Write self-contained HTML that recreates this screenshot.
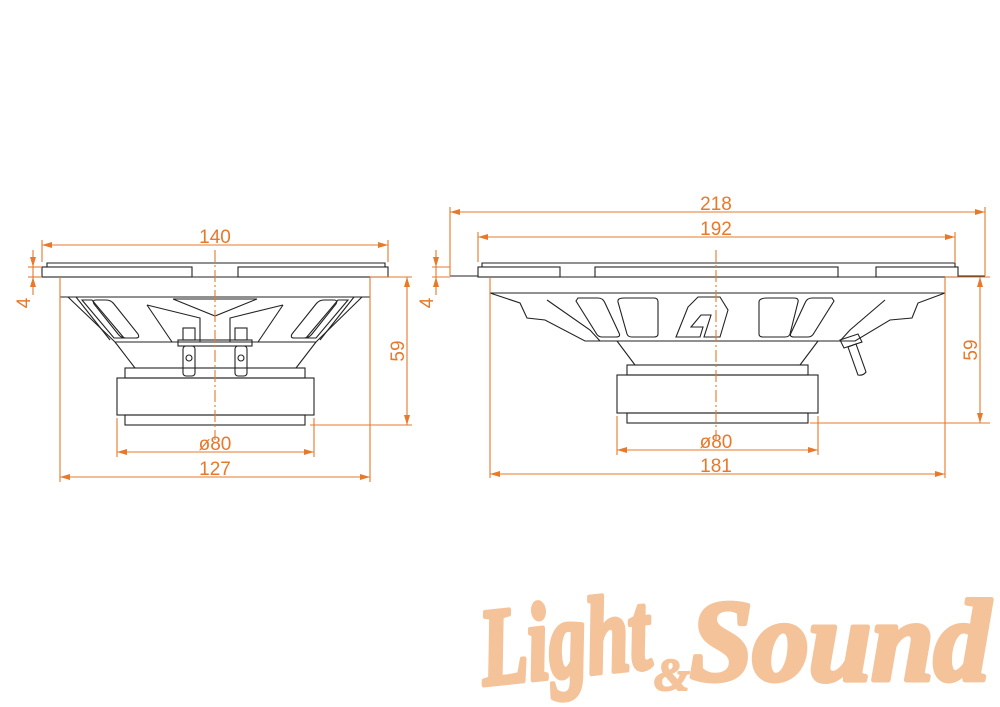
<!DOCTYPE html>
<html><head><meta charset="utf-8"><style>
html,body{margin:0;padding:0;background:#fff}
svg{display:block}
.o{stroke:#e8782a;stroke-width:1.1;fill:none}
.k{stroke:#222;stroke-width:1.1;fill:none}
.t{font-family:"Liberation Sans",sans-serif;font-size:19px;fill:#e8782a}
.c{stroke:#e8782a;stroke-width:1.1;stroke-dasharray:12,3,2,3;fill:none}
</style></head><body>
<svg width="1000" height="707" viewBox="0 0 1000 707" xmlns="http://www.w3.org/2000/svg">
<defs>
<marker id="a" viewBox="0 0 10 6" refX="10" refY="3" markerWidth="10" markerHeight="6" orient="auto-start-reverse" markerUnits="userSpaceOnUse"><path d="M0,0 L10,3 L0,6 z" fill="#e8782a"/></marker>
</defs>

<g class="k">
<path d="M47,267 L47,263 L385,263 L385,267"/>
<rect x="42" y="267" width="150" height="10"/>
<rect x="238" y="267" width="150" height="10"/>
<line x1="192" y1="277" x2="238" y2="277"/>
<line x1="60" y1="297" x2="370" y2="297"/>
<path d="M68,297 L115,342 L316,342 L362,297"/>
<path d="M76,297 L110,340"/><path d="M354,297 L320,340"/>
<path d="M82,300 l10,0 l32,38 l-10,0 z"/>
<path d="M96,300 q-4,0 -2,4 l24,30 q3,4 8,4 l10,0 q4,0 2,-4 l-24,-30 q-3,-4 -8,-4 z"/>
<path d="M348,300 l-10,0 l-32,38 l10,0 z"/>
<path d="M334,300 q4,0 2,4 l-24,30 q-3,4 -8,4 l-10,0 q-4,0 -2,-4 l24,-30 q3,-4 8,-4 z"/>
<path d="M173,299 L257,299 L215,316 z"/>
<path d="M147,305 L172,342"/><path d="M147,305 L200,318 L200,342"/>
<path d="M283,305 L258,342"/><path d="M283,305 L230,318 L230,342"/>
<rect x="178" y="340" width="74" height="6"/>
<rect x="183" y="328" width="12" height="12"/><rect x="235" y="328" width="12" height="12"/>
<rect x="183" y="346" width="12" height="30" rx="3"/><rect x="235" y="346" width="12" height="30" rx="3"/>
<circle cx="189" cy="358" r="3"/><circle cx="241" cy="358" r="3"/>
<path d="M115,342 L135,368"/><path d="M316,342 L296,368"/>
<rect x="125" y="368" width="180" height="10"/>
<rect x="117" y="378" width="197" height="37"/>
<rect x="125" y="415" width="180" height="10"/>
</g>
<line class="c" x1="215" y1="250" x2="215" y2="440"/>
<g class="o">
<line x1="42" y1="245" x2="388" y2="245" marker-start="url(#a)" marker-end="url(#a)"/>
<line x1="42" y1="240" x2="42" y2="262"/><line x1="388" y1="240" x2="388" y2="262"/>
<line x1="28" y1="267" x2="42" y2="267"/><line x1="28" y1="277" x2="42" y2="277"/>
<line x1="33" y1="250" x2="33" y2="267" marker-end="url(#a)"/>
<line x1="33" y1="295" x2="33" y2="277" marker-end="url(#a)"/>
<line x1="33" y1="267" x2="33" y2="277"/>
<line x1="370" y1="277" x2="412" y2="277"/><line x1="310" y1="425" x2="412" y2="425"/>
<line x1="407" y1="277" x2="407" y2="425" marker-start="url(#a)" marker-end="url(#a)"/>
<line x1="117" y1="418" x2="117" y2="457"/><line x1="314" y1="418" x2="314" y2="457"/>
<line x1="117" y1="452" x2="314" y2="452" marker-start="url(#a)" marker-end="url(#a)"/>
<line x1="60" y1="277" x2="60" y2="482"/><line x1="370" y1="277" x2="370" y2="482"/>
<line x1="60" y1="477" x2="370" y2="477" marker-start="url(#a)" marker-end="url(#a)"/>
</g>
<text class="t" x="215" y="243" text-anchor="middle">140</text>
<text class="t" x="215" y="450" text-anchor="middle">ø80</text>
<text class="t" x="215" y="475" text-anchor="middle">127</text>
<text class="t" transform="translate(30,303) rotate(-90)" text-anchor="middle">4</text>
<text class="t" transform="translate(404,351) rotate(-90)" text-anchor="middle">59</text>

<g class="k">
<path d="M482,267 L482,263 L955,263 L955,267"/>
<rect x="478" y="267" width="82" height="10"/>
<rect x="595" y="267" width="243" height="10"/>
<rect x="876" y="267" width="82" height="10"/>
<line x1="560" y1="277" x2="876" y2="277"/>
<line x1="450" y1="276" x2="478" y2="276"/><line x1="958" y1="276" x2="985" y2="276"/>
<line x1="490" y1="293" x2="945" y2="293"/>
<path d="M490,293 L520,303 L527,318 L545,320 L585,341 L855,341 L890,320 L912,318 L918,303 L945,293"/>
<path d="M547,300 L590,330 L600,341"/>
<path d="M578,298 l20,0 q5,0 7,5 l14,30 q2,4 -3,4 l-14,0 q-4,0 -6,-4 l-20,-32 z"/>
<path d="M624,298 l30,0 q4,0 4,4 l0,32 q0,3 -4,3 l-22,0 q-4,0 -5,-3 l-9,-32 q-1,-4 6,-4 z"/>
<path d="M698,297 l22,0 l8,13 l-8,27 l-16,0 l7,-22 l-10,0 l-10,12 l12,0 l-3,10 l-24,0 l12,-30 z"/>
<path d="M768,298 l26,0 q5,0 4,4 l-8,32 q-1,3 -5,3 l-22,0 q-4,0 -4,-3 l0,-32 q0,-4 9,-4 z"/>
<path d="M832,298 l-20,0 q-5,0 -7,5 l-14,30 q-2,4 3,4 l14,0 q4,0 6,-4 l20,-32 z"/>
<path d="M885,300 L850,330 L840,341"/>
<path d="M617,341 L635,365"/><path d="M818,341 L800,365"/>
<rect x="627" y="365" width="181" height="10"/>
<rect x="617" y="375" width="201" height="38"/>
<rect x="627" y="413" width="181" height="10"/>
<path d="M840,340 l18,-6 l4,8 l-18,6 z"/>
<path d="M848,347 l8,-3 l10,28 q-3,4 -8,3 z"/>
</g>
<line class="c" x1="716" y1="250" x2="716" y2="440"/>
<g class="o">
<line x1="450" y1="212" x2="985" y2="212" marker-start="url(#a)" marker-end="url(#a)"/>
<line x1="450" y1="207" x2="450" y2="276"/><line x1="985" y1="207" x2="985" y2="276"/>
<line x1="478" y1="237" x2="955" y2="237" marker-start="url(#a)" marker-end="url(#a)"/>
<line x1="478" y1="232" x2="478" y2="262"/><line x1="955" y1="232" x2="955" y2="262"/>
<line x1="432" y1="267" x2="450" y2="267"/><line x1="432" y1="277" x2="450" y2="277"/>
<line x1="436" y1="250" x2="436" y2="267" marker-end="url(#a)"/>
<line x1="436" y1="295" x2="436" y2="277" marker-end="url(#a)"/>
<line x1="436" y1="267" x2="436" y2="277"/>
<line x1="945" y1="277" x2="990" y2="277"/><line x1="810" y1="423" x2="990" y2="423"/>
<line x1="980" y1="277" x2="980" y2="423" marker-start="url(#a)" marker-end="url(#a)"/>
<line x1="617" y1="416" x2="617" y2="455"/><line x1="818" y1="416" x2="818" y2="455"/>
<line x1="617" y1="450" x2="818" y2="450" marker-start="url(#a)" marker-end="url(#a)"/>
<line x1="490" y1="277" x2="490" y2="478"/><line x1="945" y1="277" x2="945" y2="478"/>
<line x1="490" y1="474" x2="945" y2="474" marker-start="url(#a)" marker-end="url(#a)"/>
</g>
<text class="t" x="716" y="210" text-anchor="middle">218</text>
<text class="t" x="716" y="235" text-anchor="middle">192</text>
<text class="t" x="716" y="448" text-anchor="middle">ø80</text>
<text class="t" x="716" y="472" text-anchor="middle">181</text>
<text class="t" transform="translate(433,303) rotate(-90)" text-anchor="middle">4</text>
<text class="t" transform="translate(977,350) rotate(-90)" text-anchor="middle">59</text>

<g fill="#f5c39a" stroke="#f5c39a" stroke-width="5" stroke-linejoin="round" font-family="'Liberation Serif',serif" font-style="italic" font-weight="bold">
<text x="484" y="685" font-size="110" transform="rotate(-6 484 685)" textLength="170" lengthAdjust="spacingAndGlyphs">Light</text>
<text x="654" y="690" font-size="46" stroke-width="2">&amp;</text>
<text x="690" y="680" font-size="115" textLength="300" lengthAdjust="spacingAndGlyphs">Sound</text>
</g>
</svg>
</body></html>
